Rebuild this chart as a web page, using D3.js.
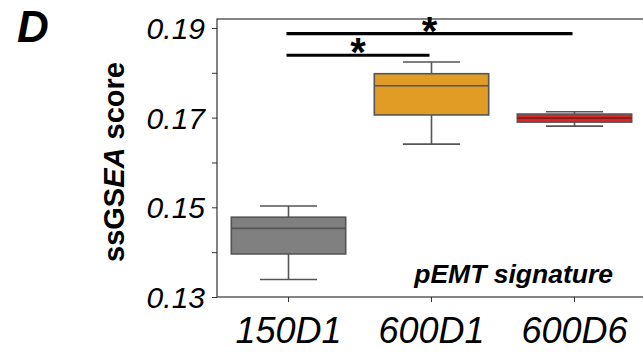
<!DOCTYPE html>
<html>
<head>
<meta charset="utf-8">
<script src="https://cdn.jsdelivr.net/npm/d3@7"></script>
<style>
  body { margin: 0; background: #fff; }
  svg { display: block; font-family: "Liberation Sans", Arial, sans-serif; }
</style>
</head>
<body>
<svg width="643" height="356"></svg>
<script>
// groups and box stats
var groups = ["150D1", "600D1", "600D6"];
var whiskerLow = [0.1339, 0.1641, 0.1681];
var q1 = [0.1396, 0.1706, 0.1690];
var median = [0.1453, 0.1771, 0.1699];
var q3 = [0.1478, 0.1798, 0.1708];
var whiskerHigh = [0.1503, 0.1824, 0.1713];
var boxColors = ["#808080", "#e09c24", "#d42a2a"];

var majorTicks = [0.13, 0.15, 0.17, 0.19];
var minorTicks = [0.14, 0.16, 0.18];

// significance brackets: from group, to group, level
var sigFrom = ["150D1", "150D1"];
var sigTo = ["600D6", "600D1"];
var sigLevel = [0.18873, 0.18391];

var svg = d3.select("svg");

var x = d3.scaleBand()
    .domain(groups)
    .range([217, 646])
    .paddingInner(0)
    .paddingOuter(0);

var y = d3.scaleLinear()
    .domain([0.13, 0.192])
    .range([297, 19]);

var boxW = x.bandwidth() * 0.8;
var capW = boxW / 2;

// frame
svg.append("rect")
    .attr("x", x.range()[0])
    .attr("y", y(0.192))
    .attr("width", x.range()[1] - x.range()[0])
    .attr("height", y(0.13) - y(0.192))
    .attr("fill", "none")
    .attr("stroke", "#333")
    .attr("stroke-width", 1.2);

// y axis
svg.append("g")
    .attr("transform", "translate(" + x.range()[0] + ",0)")
    .call(d3.axisLeft(y).tickValues(majorTicks).tickSize(5).tickFormat(d3.format(".2f")))
    .call(function(g) {
        g.select(".domain").remove();
        g.selectAll("line").attr("stroke", "#333");
        g.selectAll("text")
            .attr("x", -12)
            .attr("dy", "0.35em")
            .attr("font-size", 30)
            .attr("font-style", "italic")
            .attr("fill", "#000");
    });

svg.append("g")
    .attr("transform", "translate(" + x.range()[0] + ",0)")
    .call(d3.axisLeft(y).tickValues(minorTicks).tickSize(5).tickFormat(""))
    .call(function(g) {
        g.select(".domain").remove();
        g.selectAll("line").attr("stroke", "#333");
    });

// x axis
svg.append("g")
    .attr("transform", "translate(0," + y(0.13) + ")")
    .call(d3.axisBottom(x).tickSize(5).tickPadding(15))
    .call(function(g) {
        g.select(".domain").remove();
        g.selectAll("line").attr("stroke", "#333");
        g.selectAll("text")
            .attr("font-size", 36)
            .attr("font-style", "italic")
            .attr("fill", "#000");
    });

// boxes
var boxes = svg.append("g").selectAll("g")
    .data(groups)
    .enter().append("g");

boxes.each(function(d, i) {
    var g = d3.select(this);
    var cx = x(d) + x.bandwidth() / 2;
    // whiskers
    g.append("line")
        .attr("x1", cx).attr("x2", cx)
        .attr("y1", y(whiskerHigh[i])).attr("y2", y(q3[i]))
        .attr("stroke", "#555").attr("stroke-width", 1.6);
    g.append("line")
        .attr("x1", cx).attr("x2", cx)
        .attr("y1", y(q1[i])).attr("y2", y(whiskerLow[i]))
        .attr("stroke", "#555").attr("stroke-width", 1.6);
    g.append("line")
        .attr("x1", cx - capW / 2).attr("x2", cx + capW / 2)
        .attr("y1", y(whiskerHigh[i])).attr("y2", y(whiskerHigh[i]))
        .attr("stroke", "#555").attr("stroke-width", 1.6);
    g.append("line")
        .attr("x1", cx - capW / 2).attr("x2", cx + capW / 2)
        .attr("y1", y(whiskerLow[i])).attr("y2", y(whiskerLow[i]))
        .attr("stroke", "#555").attr("stroke-width", 1.6);
    // box
    g.append("rect")
        .attr("x", cx - boxW / 2)
        .attr("y", y(q3[i]))
        .attr("width", boxW)
        .attr("height", y(q1[i]) - y(q3[i]))
        .attr("fill", boxColors[i])
        .attr("stroke", "#555")
        .attr("stroke-width", 1.6);
    // median
    g.append("line")
        .attr("x1", cx - boxW / 2).attr("x2", cx + boxW / 2)
        .attr("y1", y(median[i])).attr("y2", y(median[i]))
        .attr("stroke", i == 2 ? "#8a1a1a" : "#555").attr("stroke-width", 1.6);
});

// significance bars
sigLevel.forEach(function(lv, i) {
    var x1 = x(sigFrom[i]) + x.bandwidth() / 2 - 2;
    var x2 = x(sigTo[i]) + x.bandwidth() / 2 - 2;
    svg.append("line")
        .attr("x1", x1).attr("x2", x2)
        .attr("y1", y(lv)).attr("y2", y(lv))
        .attr("stroke", "#000")
        .attr("stroke-width", 3.2);
    svg.append("text")
        .attr("x", (x1 + x2) / 2)
        .attr("y", y(lv) + 11)
        .attr("text-anchor", "middle")
        .attr("font-size", 40)
        .attr("font-weight", "bold")
        .text("*");
});

// labels
svg.append("text")
    .attr("x", 17)
    .attr("y", 42)
    .attr("font-size", 44)
    .attr("font-weight", "bold")
    .attr("font-style", "italic")
    .text("D");

var yl = svg.append("text")
    .attr("transform", "translate(124,162) rotate(-90)")
    .attr("text-anchor", "middle")
    .attr("font-size", 29)
    .attr("font-weight", "bold");
yl.append("tspan").text("ssGS");
yl.append("tspan").attr("font-style", "italic").text("EA");
yl.append("tspan").text(" score");

svg.append("text")
    .attr("x", 613)
    .attr("y", 283)
    .attr("text-anchor", "end")
    .attr("font-size", 26.5)
    .attr("font-weight", "bold")
    .attr("font-style", "italic")
    .text("pEMT signature");
</script>
</body>
</html>
